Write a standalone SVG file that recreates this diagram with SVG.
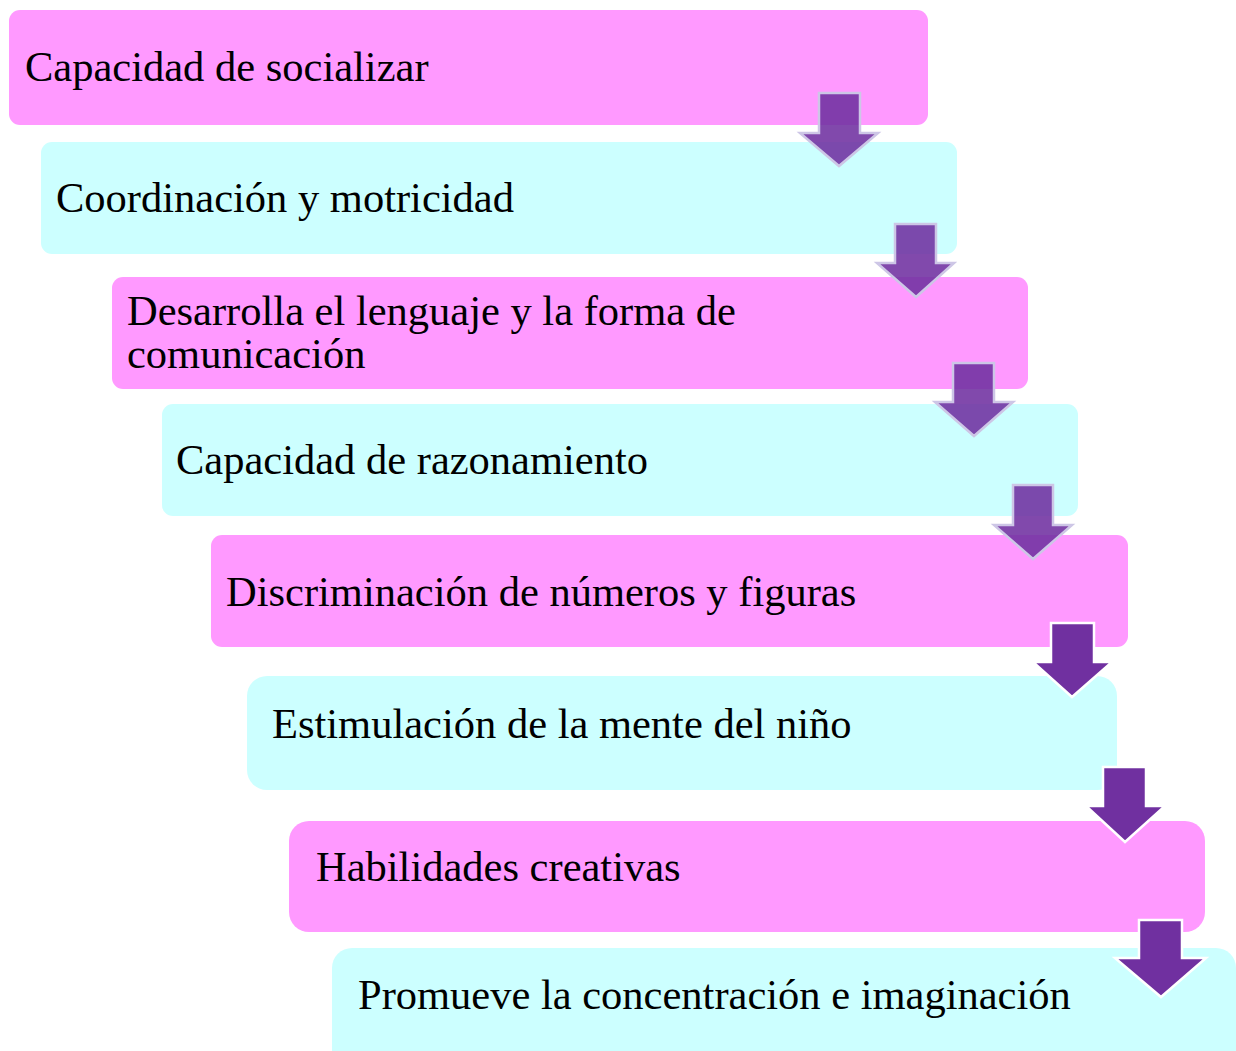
<svg xmlns="http://www.w3.org/2000/svg" width="1236" height="1051" viewBox="0 0 1236 1051">
<style>
.pink{fill:#ff99ff}
.cyan{fill:#ccffff}
.t{font-family:"Liberation Serif","Times New Roman",serif;font-size:42.5px;fill:#000}
.a1{fill:#7030a0;fill-opacity:0.88;stroke:#cdc6e6;stroke-width:2.5}
.a2{fill:#7030a0;stroke:#ffffff;stroke-width:2.5}
</style>
<rect width="1236" height="1051" fill="#ffffff"/>
<g id="n1"><rect class="pink" x="9" y="10" width="919" height="115" rx="11"/><text class="t" x="25" y="81">Capacidad de socializar</text></g>
<g id="n2"><rect class="cyan" x="41" y="142" width="916" height="112" rx="11"/><text class="t" x="56" y="212">Coordinación y motricidad</text></g>
<g id="n3"><rect class="pink" x="112" y="277" width="916" height="112" rx="11"/><text class="t" x="127" y="325">Desarrolla el lenguaje y la forma de</text><text class="t" x="127" y="368">comunicación</text></g>
<g id="n4"><rect class="cyan" x="162" y="404" width="916" height="112" rx="11"/><text class="t" x="176" y="474">Capacidad de razonamiento</text></g>
<g id="n5"><rect class="pink" x="211" y="535" width="917" height="112" rx="11"/><text class="t" x="226" y="606">Discriminación de números y figuras</text></g>
<g id="n6"><rect class="cyan" x="247" y="676" width="870" height="114" rx="20"/><text class="t" x="272" y="738">Estimulación de la mente del niño</text></g>
<g id="n7"><rect class="pink" x="289" y="821" width="916" height="111" rx="20"/><text class="t" x="316" y="881">Habilidades creativas</text></g>
<g id="n8"><rect class="cyan" x="332" y="948" width="904" height="123" rx="20"/><text class="t" x="358" y="1009">Promueve la concentración e imaginación</text></g>
<g id="connectors">
<polygon class="a1" points="819,93 860,93 860,133 878,133 839,166 800,133 819,133"/>
<polygon class="a1" points="895,224 936,224 936,263 954,263 916,297 877,263 895,263"/>
<polygon class="a1" points="953,363 994,363 994,402 1013,402 974,436 935,402 953,402"/>
<polygon class="a1" points="1013,485 1053,485 1053,525 1072,525 1033,559 994,525 1013,525"/>
<polygon class="a2" points="1051,623 1094,623 1094,662 1112,662 1072,697 1033,662 1051,662"/>
<polygon class="a2" points="1103,767 1146,767 1146,806 1165,806 1125,842 1086,806 1103,806"/>
<polygon class="a2" points="1139,920 1182,920 1182,958 1206,958 1161,997 1115,958 1139,958"/>
</g>
</svg>
